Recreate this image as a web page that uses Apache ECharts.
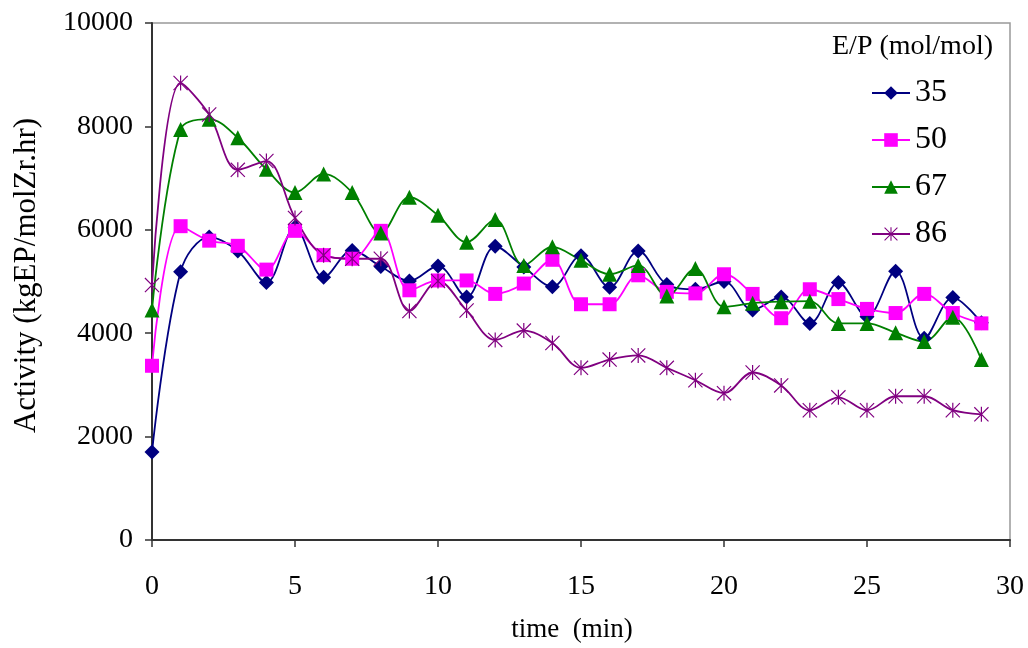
<!DOCTYPE html>
<html>
<head>
<meta charset="utf-8">
<script src="https://cdn.jsdelivr.net/npm/echarts@6/dist/echarts.min.js"></script>
<style>html,body{margin:0;padding:0;background:#fff;}#c{width:1028px;height:648px;}</style>
</head>
<body>
<div id="c"></div>
<script>
var time = [0,1,2,3,4,5,6,7,8,9,10,11,12,13,14,15,16,17,18,19,20,21,22,23,24,25,26,27,28,29];
var s35 = [1700,5190,5860,5590,4980,6050,5080,5600,5290,5010,5300,4700,5680,5280,4900,5500,4890,5590,4940,4850,5000,4450,4700,4190,4980,4320,5200,3900,4690,4200];
var s50 = [3370,6070,5790,5690,5230,5980,5510,5440,5980,4830,5020,5020,4760,4960,5420,4560,4560,5120,4800,4770,5140,4760,4290,4850,4660,4470,4390,4760,4390,4190];
var s67 = [4450,7940,8140,7780,7170,6720,7080,6720,5940,6630,6280,5760,6200,5310,5670,5410,5140,5310,4720,5250,4510,4580,4610,4620,4190,4190,4010,3840,4310,3490];
var s86 = [4930,8840,8230,7160,7330,6230,5510,5440,5440,4430,5010,4440,3870,4050,3810,3330,3490,3570,3330,3090,2840,3240,2990,2510,2760,2510,2780,2780,2510,2430];
var seriesNames = ['35','50','67','86'];
var xTicks = {min:0, max:30, interval:5};
var yTicks = {min:0, max:10000, interval:2000};

var FONT = '"Liberation Serif","Times New Roman",serif';
var star = 'path://M9.2,0L10.8,0L10.8,20L9.2,20Z M0,1.1L1.1,0L20,18.9L18.9,20Z M18.9,0L20,1.1L1.1,20L0,18.9Z';

function pairs(arr){ return time.map(function(t,i){ return [t, arr[i]]; }); }
function mk(name, data, color, symbol, size){
  return {
    name: name, type: 'line', data: pairs(data), smooth: 0.35,
    symbol: symbol, symbolSize: size,
    lineStyle: {color: color, width: 1.8},
    itemStyle: {color: color},
    emphasis: {disabled: true}
  };
}
var chart = echarts.init(document.getElementById('c'), null, {renderer:'canvas'});
chart.setOption({
  animation: false,
  backgroundColor: '#fff',
  title: {
    text: 'E/P (mol/mol)', left: 832, top: 33, padding: 0,
    textStyle: {fontFamily: FONT, fontSize: 28, fontWeight: 'normal', color: '#000'}
  },
  legend: {
    orient: 'vertical', left: 871, top: 75, padding: 0,
    itemWidth: 38, itemHeight: 17, itemGap: 11,
    data: seriesNames,
    textStyle: {fontFamily: FONT, fontSize: 32, color: '#000', lineHeight: 36}
  },
  grid: {left: 152, right: 18, top: 23, bottom: 105, show: true, borderColor: '#999', borderWidth: 1.5, backgroundColor: 'transparent'},
  xAxis: {
    type: 'value', min: xTicks.min, max: xTicks.max, interval: xTicks.interval,
    name: 'time  (min)', nameLocation: 'middle', nameGap: 76,
    nameTextStyle: {fontFamily: FONT, fontSize: 27, color: '#000', padding: [0, 18, 0, 0]},
    axisLine: {show: true, onZero: false, lineStyle: {color: '#333', width: 2}},
    axisTick: {show: true, inside: false, length: 7, lineStyle: {color: '#333', width: 1.5}},
    axisLabel: {fontFamily: FONT, fontSize: 28, color: '#000', margin: 33},
    splitLine: {show: false}
  },
  yAxis: {
    type: 'value', min: yTicks.min, max: yTicks.max, interval: yTicks.interval,
    name: 'Activity (kgEP/molZr.hr)', nameLocation: 'middle', nameGap: 110, nameRotate: 90,
    nameTextStyle: {fontFamily: FONT, fontSize: 31, color: '#000', padding: [0, 0, 0, 12]},
    axisLine: {show: true, lineStyle: {color: '#333', width: 2}},
    axisTick: {show: true, inside: false, length: 7, lineStyle: {color: '#333', width: 1.5}},
    axisLabel: {fontFamily: FONT, fontSize: 28, color: '#000', margin: 19,
      formatter: function(v){ return String(v); }},
    splitLine: {show: false}
  },
  series: [
    mk('35', s35, '#000080', 'diamond', 15),
    mk('50', s50, '#FF00FF', 'rect', 14),
    mk('67', s67, '#008000', 'triangle', 15),
    mk('86', s86, '#800080', star, 15)
  ]
});
</script>
</body>
</html>
